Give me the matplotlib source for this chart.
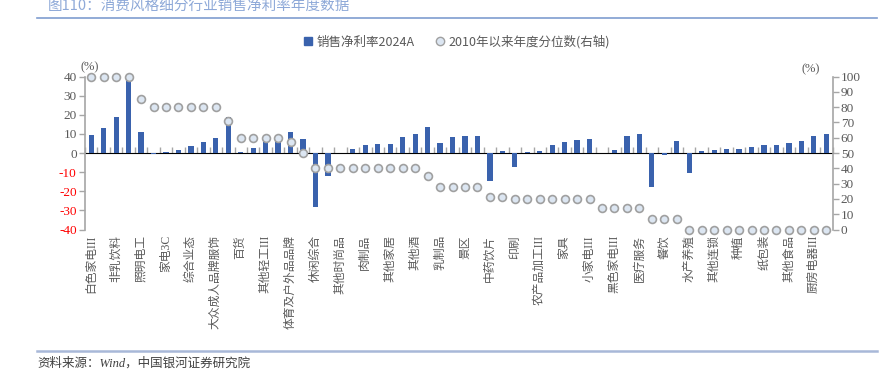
import numpy as np
import matplotlib
matplotlib.use("Agg")
import matplotlib.pyplot as plt
from matplotlib.lines import Line2D

plt.rcParams['font.family'] = ['Liberation Serif', 'Noto Sans CJK SC', 'DejaVu Sans']

shown_labels = ["白色家电III", "非乳饮料", "照明电工", "家电3C", "综合业态", "大众成人品牌服饰",
                "百货", "其他轻工III", "体育及户外品品牌", "休闲综合", "其他时尚品", "肉制品",
                "其他家居", "其他酒", "乳制品", "景区", "中药饮片", "印刷", "农产品加工III",
                "家具", "小家电III", "黑色家电III", "医疗服务", "餐饮", "水产养殖", "其他连锁",
                "种植", "纸包装", "其他食品", "厨房电器III"]
# every second category is labelled in the source; the others are unnamed
categories = []
for name in shown_labels:
    categories += [name, ""]

net_margin = [9.4, 12.9, 19.0, 39.5, 10.8, -0.5, 0.3, 1.6, 3.8, 5.8,
              7.7, 18.7, 0.3, 2.8, 5.9, 7.5, 11.0, 7.2, -28.0, -12.0,
              0.2, 2.3, 4.4, 4.5, 4.9, 8.2, 9.8, 13.4, 5.1, 8.4,
              8.7, 8.9, -14.8, 0.9, -7.3, 0.5, 1.2, 4.2, 5.8, 6.6,
              7.3, 0.1, 1.6, 9.1, 10.1, -17.6, -0.9, 6.3, -10.6, 1.2,
              1.6, 1.9, 2.3, 3.1, 4.2, 4.4, 5.2, 6.5, 9.1, 9.8]

percentile = [100, 100, 100, 100, 85, 80, 80, 80, 80, 80,
              80, 71, 60, 60, 60, 60, 57, 50, 40, 40,
              40, 40, 40, 40, 40, 40, 40, 35, 28, 28,
              28, 28, 21, 21, 20, 20, 20, 20, 20, 20,
              20, 14, 14, 14, 14, 7, 7, 7, 0, 0,
              0, 0, 0, 0, 0, 0, 0, 0, 0, 0]

left_ticks = [40, 30, 20, 10, 0, -10, -20, -30, -40]
right_ticks = [100, 90, 80, 70, 60, 50, 40, 30, 20, 10, 0]

bar_color = '#3a62ad'
gray = '#595959'
spine_gray = '#a6a6a6'
title_blue = '#8ea9d8'

fig = plt.figure(figsize=(8.91, 3.84), dpi=100)
ax = fig.add_axes([85/891, 1-229.5/384, (832.5-85)/891, (229.5-76.5)/384])
x = np.arange(len(categories))

ax.bar(x, net_margin, width=0.42, color=bar_color, zorder=2)
ax.set_xlim(-0.5, len(categories)-0.5)
ax.set_ylim(-40, 40)
ax.set_yticks(left_ticks)
ax.set_yticklabels([str(v) for v in left_ticks], fontsize=9.5)
for lbl, v in zip(ax.get_yticklabels(), left_ticks):
    lbl.set_color('#ff0000' if v < 0 else gray)
ax.tick_params(axis='y', direction='out', length=4, width=1, color=spine_gray, pad=2)
ax.set_xticks(x)
ax.set_xticklabels(categories, rotation=90, fontsize=8.5, color=gray)
ax.tick_params(axis='x', length=0, pad=4)
for s in ['top', 'right', 'bottom']:
    ax.spines[s].set_visible(False)
ax.spines['left'].set_color(spine_gray)
ax.spines['left'].set_linewidth(1.2)

# zero axis line with boundary ticks
sec = ax.secondary_xaxis(0.5)
sec.set_xticks(np.arange(-0.5, len(categories), 1.0))
sec.set_xticklabels([])
sec.tick_params(direction='out', length=4, width=1, color=spine_gray)
sec.spines['bottom'].set_color(spine_gray)
sec.spines['bottom'].set_linewidth(1.5)

ax2 = ax.twinx()
ax2.scatter(x, percentile, s=32, facecolor='#dce6f2', edgecolor='#a0a0a0',
            linewidth=1.2, zorder=5, clip_on=False)
ax2.set_ylim(0, 100)
ax2.set_yticks(right_ticks)
ax2.set_yticklabels([str(v) for v in right_ticks], fontsize=9.5, color=gray)
ax2.tick_params(axis='y', direction='out', length=4, width=1, color=spine_gray, pad=2)
for s in ['top', 'left', 'bottom']:
    ax2.spines[s].set_visible(False)
ax2.spines['right'].set_color(spine_gray)
ax2.spines['right'].set_linewidth(1.2)

fig.text(90/891, 1-67/384, '(%)', fontsize=9, color=gray, ha='center', va='center')
fig.text(811/891, 1-69/384, '(%)', fontsize=9, color=gray, ha='center', va='center')

# title and rules
fig.text(48/891, 1-7/384, '图110：消费风格细分行业销售净利率年度数据', fontsize=10.5,
         color=title_blue, ha='left', va='center',
         family=['Noto Sans CJK SC', 'DejaVu Sans'])
fig.add_artist(Line2D([37/891, 877/891], [1-18.3/384, 1-18.3/384], color='#7f9dd0', lw=1.2))
fig.add_artist(Line2D([37/891, 877/891], [1-350.7/384, 1-350.7/384], color='#a8b8d8', lw=1.8))
fig.text(37/891, 1-363/384, '资料来源：Wind，中国银河证券研究院', fontsize=9, color='#404040',
         ha='left', va='center', style='italic')

handles = [Line2D([], [], marker='s', linestyle='none', color=bar_color, markersize=6),
           Line2D([], [], marker='o', linestyle='none', markerfacecolor='#dce6f2',
                  markeredgecolor='#a0a0a0', markersize=6)]
fig.legend(handles, ['销售净利率2024A', '2010年以来年度分位数(右轴)'], loc='center',
           bbox_to_anchor=(456/891, 1-42/384), ncol=2, frameon=False,
           handletextpad=0.2, columnspacing=1.5, handlelength=1.0,
           prop={'family': ['Noto Sans CJK SC', 'DejaVu Sans'], 'size': 9})
for t in fig.legends[0].get_texts():
    t.set_color(gray)

fig.savefig('out.png', dpi=100)
